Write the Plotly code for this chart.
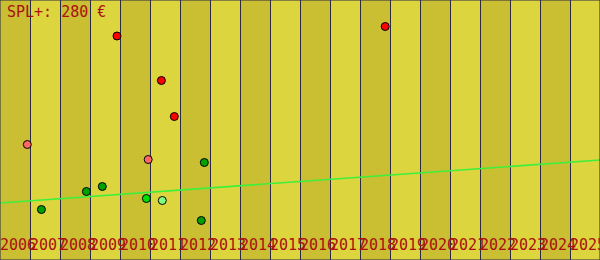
import plotly.graph_objects as go

# ---- data ----
years = list(range(2006, 2026))
title_text = "SPL+: 280 €"

pt_x = [2006.91, 2007.38, 2008.88, 2009.41, 2009.90, 2010.88, 2010.94,
        2011.38, 2011.41, 2011.81, 2012.81, 2012.71, 2018.84]
pt_y = [231, 101, 137, 147, 448, 123, 201, 359, 119, 287, 195, 79, 467]
pt_kind = ["salmon", "dgreen", "dgreen", "dgreen", "red", "bgreen", "salmon",
           "red", "lgreen", "red", "dgreen", "dgreen", "red"]

trend_x = [2006, 2026]
trend_y = [114, 200]

kind_colors = {
    "red": "#ff0000",
    "salmon": "#ff6666",
    "dgreen": "#00a000",
    "bgreen": "#00e000",
    "lgreen": "#80ff80",
}

DARK = "#cabe33"
LIGHT = "#ddd53e"
GRID = "#2a2a44"
TEXT = "#aa1010"
FONT = "DejaVu Sans Mono"

fig = go.Figure()

fig.add_trace(go.Scatter(
    x=trend_x, y=trend_y, mode="lines",
    line=dict(color="#3cf03c", width=1.6),
    hoverinfo="skip", showlegend=False,
))

fig.add_trace(go.Scatter(
    x=pt_x, y=pt_y, mode="markers",
    marker=dict(size=8, color=[kind_colors[k] for k in pt_kind],
                line=dict(color="#000000", width=1)),
    showlegend=False,
))

shapes = []
for i, yr in enumerate(years):
    if i % 2 == 0:
        shapes.append(dict(type="rect", xref="x", yref="paper",
                           x0=yr, x1=yr + 1, y0=0, y1=1,
                           fillcolor=DARK, line=dict(width=0), layer="below"))
shapes.append(dict(type="rect", xref="paper", yref="paper", x0=0, x1=1, y0=0, y1=1,
                   line=dict(color=GRID, width=1), layer="above"))

annotations = []
for yr in years:
    annotations.append(dict(
        x=yr, xref="x", y=0, yref="paper", xanchor="left", yanchor="bottom",
        text=str(yr), showarrow=False, xshift=-2, yshift=4,
        font=dict(family=FONT, size=15, color=TEXT),
    ))
annotations.append(dict(
    x=5 / 600, xref="paper", y=1, yref="paper", xanchor="left", yanchor="top",
    text=title_text, showarrow=False, yshift=-1,
    font=dict(family=FONT, size=15, color=TEXT),
))

fig.update_layout(
    width=600, height=260,
    margin=dict(l=0, r=0, t=0, b=0),
    paper_bgcolor=LIGHT, plot_bgcolor=LIGHT,
    shapes=shapes, annotations=annotations,
    xaxis=dict(range=[2006, 2026], tick0=2006, dtick=1, showgrid=True,
               gridcolor=GRID, gridwidth=1, showticklabels=False,
               zeroline=False, showline=False, fixedrange=True),
    yaxis=dict(range=[0, 520], showgrid=False, showticklabels=False,
               zeroline=False, showline=False, fixedrange=True),
    showlegend=False,
)

fig.write_html("out.html")
